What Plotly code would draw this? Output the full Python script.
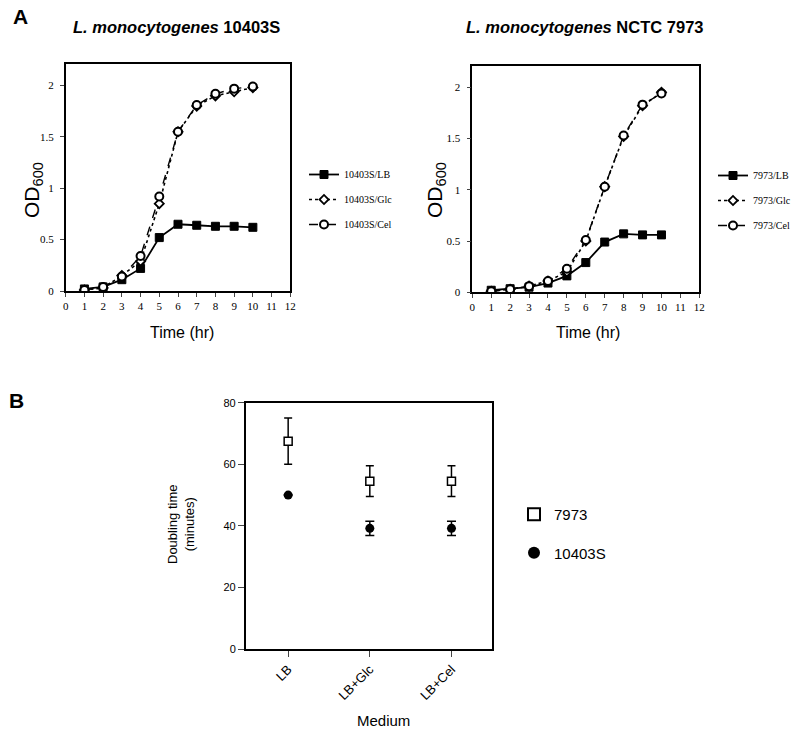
import plotly.graph_objects as go

# ---------------- data ----------------
time_hr = [1, 2, 3, 4, 5, 6, 7, 8, 9, 10]
lb_10403S = [0.02, 0.04, 0.11, 0.22, 0.52, 0.65, 0.64, 0.63, 0.63, 0.62]
glc_10403S = [0.01, 0.03, 0.15, 0.29, 0.85, 1.55, 1.80, 1.90, 1.94, 1.98]
cel_10403S = [0.01, 0.04, 0.14, 0.34, 0.92, 1.55, 1.81, 1.92, 1.97, 1.99]
lb_7973 = [0.02, 0.035, 0.05, 0.09, 0.16, 0.29, 0.49, 0.57, 0.56, 0.56]
glc_7973 = [0.01, 0.03, 0.06, 0.11, 0.20, 0.50, 1.03, 1.52, 1.82, 1.95]
cel_7973 = [0.01, 0.03, 0.06, 0.11, 0.23, 0.51, 1.03, 1.53, 1.83, 1.94]
names_10403S = ["10403S/LB", "10403S/Glc", "10403S/Cel"]
names_7973 = ["7973/LB", "7973/Glc", "7973/Cel"]

media = ["LB", "LB+Glc", "LB+Cel"]
dt_7973 = [67.5, 54.5, 54.5]
err_7973 = [7.5, 5.0, 5.0]
dt_10403S = [50.0, 39.2, 39.2]
err_10403S = [0.0, 2.3, 2.3]

od_ticks = [0, 0.5, 1, 1.5, 2]
od_ticklabels = ["0", "0.5", "1", "1.5", "2"]
time_ticks = list(range(0, 13))

W, H = 800, 735
SERIF = "Liberation Serif"
SANS = "Liberation Sans"


def px(x):
    return x / W


def py(y):
    return 1 - y / H


fig = go.Figure()

styles = [
    dict(dash="solid", symbol="square", size=8, mcolor="black", mlw=1, lw=1.8),
    dict(dash="dot", symbol="diamond", size=7, mcolor="white", mlw=1.8, lw=1.6),
    dict(dash="dash", symbol="circle", size=8, mcolor="white", mlw=2, lw=1.4),
]

for series, names, xa, ya, leg in [
    ([lb_10403S, glc_10403S, cel_10403S], names_10403S, "x", "y", "legend"),
    ([lb_7973, glc_7973, cel_7973], names_7973, "x2", "y2", "legend2"),
]:
    for vals, nm, st in zip(series, names, styles):
        fig.add_trace(go.Scatter(
            x=time_hr, y=vals, name=nm, mode="lines+markers",
            xaxis=xa, yaxis=ya, legend=leg, legendgroup=nm,
            line=dict(color="black", width=st["lw"], dash=st["dash"]),
            marker=dict(symbol=st["symbol"], size=st["size"], color=st["mcolor"],
                        line=dict(color="black", width=st["mlw"])),
        ))

fig.add_trace(go.Scatter(
    x=media, y=dt_7973, name="7973", mode="markers", xaxis="x3", yaxis="y3",
    legend="legend3", legendgroup="7973",
    marker=dict(symbol="square", size=8, color="white", line=dict(width=1.5, color="black")),
    error_y=dict(type="data", array=err_7973, color="black", thickness=1.5, width=4),
))
fig.add_trace(go.Scatter(
    x=media, y=dt_10403S, name="10403S", mode="markers", xaxis="x3", yaxis="y3",
    legend="legend3", legendgroup="10403S",
    marker=dict(symbol="circle", size=9, color="black"),
    error_y=dict(type="data", array=err_10403S, color="black", thickness=1.5, width=4.5),
))

axA_x = dict(range=[0, 12], tickvals=time_ticks, ticks="outside", ticklen=4, tickwidth=1.2,
             showline=True, linecolor="black", linewidth=1.5, mirror=True, showgrid=False,
             zeroline=False, tickfont=dict(family=SERIF, size=11, color="black"))
axA_y = dict(range=[0, 2.21], tickvals=od_ticks, ticktext=od_ticklabels, ticks="outside",
             ticklen=4, tickwidth=1.2, showline=True, linecolor="black", linewidth=1.5,
             mirror=True, showgrid=False, zeroline=False, ticklabelstandoff=4,
             tickfont=dict(family=SERIF, size=11, color="black"))

fig.update_layout(
    width=W, height=H, margin=dict(l=0, r=0, t=0, b=0, autoexpand=False),
    paper_bgcolor="white", plot_bgcolor="white", showlegend=True,
    xaxis=dict(domain=[px(65.7), px(290.3)], anchor="y", **axA_x),
    yaxis=dict(domain=[py(291), py(64)], anchor="x", **axA_y),
    xaxis2=dict(domain=[px(472.3), px(699.3)], anchor="y2", **axA_x),
    yaxis2=dict(domain=[py(292.3), py(65.7)], anchor="x2", **axA_y),
    xaxis3=dict(domain=[px(245.7), px(492.3)], anchor="y3", type="category",
                range=[-0.52, 2.5], ticks="outside", ticklen=6, tickwidth=1.2,
                showline=True, linecolor="black", linewidth=1.5, mirror=True,
                showgrid=False, zeroline=False, tickangle=-45,
                tickfont=dict(family=SANS, size=13, color="black")),
    yaxis3=dict(domain=[py(649), py(402.7)], anchor="x3", range=[0, 80],
                tickvals=[0, 20, 40, 60, 80], ticks="outside", ticklen=6, tickwidth=1.2,
                showline=True, linecolor="black", linewidth=1.5, mirror=True,
                showgrid=False, zeroline=False,
                tickfont=dict(family=SANS, size=11, color="black")),
    legend=dict(x=px(304), y=py(160), xanchor="left", yanchor="top",
                font=dict(family=SERIF, size=10, color="black"), traceorder="grouped",
                tracegroupgap=6, bgcolor="rgba(0,0,0,0)", itemwidth=30),
    legend2=dict(x=px(713), y=py(161), xanchor="left", yanchor="top",
                 font=dict(family=SERIF, size=10, color="black"), traceorder="grouped",
                 tracegroupgap=6, bgcolor="rgba(0,0,0,0)", itemwidth=30),
    legend3=dict(x=px(514), y=py(498), xanchor="left", yanchor="top",
                 font=dict(family=SANS, size=15, color="black"), traceorder="grouped",
                 tracegroupgap=16, bgcolor="rgba(0,0,0,0)", itemsizing="constant",
                 itemwidth=30),
)

ann = []


def add_text(text, x, y, size, family=SANS, bold=False, angle=0, xanchor="center"):
    if bold:
        text = "<b>" + text + "</b>"
    ann.append(dict(text=text, x=px(x), y=py(y), xref="paper", yref="paper",
                    showarrow=False, xanchor=xanchor, yanchor="middle", textangle=angle,
                    font=dict(family=family, size=size, color="black")))


add_text("A", 11, 17, 21, bold=True, xanchor="left")
add_text("B", 7, 400, 21, bold=True, xanchor="left")
add_text("<i>L. monocytogenes</i> 10403S", 176, 27, 16.5, bold=True)
add_text("<i>L. monocytogenes</i> NCTC 7973", 584, 27, 16.5, bold=True)
add_text("OD<sub>600</sub>", 33, 190, 21, angle=-90)
add_text("OD<sub>600</sub>", 436, 190, 21, angle=-90)
add_text("Time (hr)", 182, 332, 16)
add_text("Time (hr)", 588, 332, 16)
add_text("Doubling time<br>(minutes)", 181, 524, 13, angle=-90)
add_text("Medium", 383, 720, 15)

fig.update_layout(annotations=ann)
fig.write_html("out.html", config={"displayModeBar": False},
               post_script="document.body.style.margin='0';")
